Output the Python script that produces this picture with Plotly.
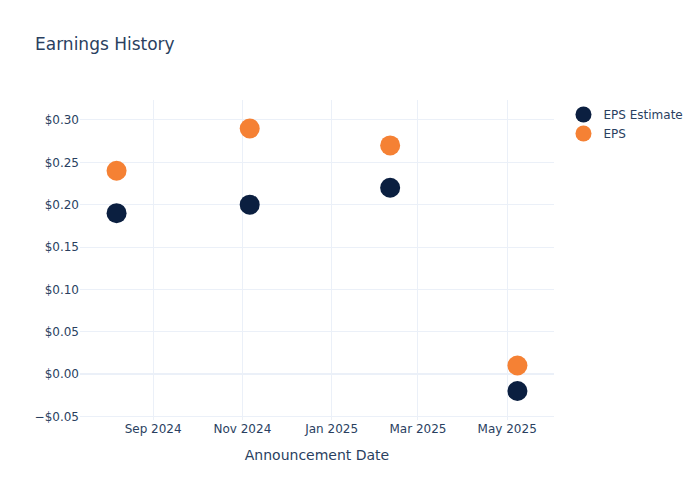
import plotly.graph_objects as go

# announcement dates and EPS values
dates = ["2024-08-07", "2024-11-06", "2025-02-10", "2025-05-08"]
eps_estimate = [0.19, 0.20, 0.22, -0.02]
eps_actual = [0.24, 0.29, 0.27, 0.01]

# y tick labels as shown
y_ticks = [-0.05, 0.0, 0.05, 0.10, 0.15, 0.20, 0.25, 0.30]
y_labels = ["\u2212$0.05", "$0.00", "$0.05", "$0.10", "$0.15", "$0.20", "$0.25", "$0.30"]

fig = go.Figure()

fig.add_trace(
    go.Scatter(
        x=dates,
        y=eps_estimate,
        mode="markers",
        name="EPS Estimate",
        marker=dict(color="#0b1f40", size=20),
    )
)

fig.add_trace(
    go.Scatter(
        x=dates,
        y=eps_actual,
        mode="markers",
        name="EPS",
        marker=dict(color="#f58134", size=20),
    )
)

# page has an 8px body margin, so margins are trimmed to line up with the reference
fig.update_layout(
    template="plotly_white",
    width=700,
    height=500,
    margin=dict(l=72, r=154, t=92, b=88),
    font=dict(family="DejaVu Sans"),
    title=dict(text="Earnings History", x=0.0386, y=0.928, yanchor="middle"),
    xaxis=dict(
        title=dict(text="Announcement Date"),
        range=["2024-07-13", "2025-06-02"],
        dtick="M2",
        tickformat="%b %Y",
    ),
    yaxis=dict(
        range=[-0.0543, 0.3236],
        tickvals=y_ticks,
        ticktext=y_labels,
    ),
)

fig.write_html("out.html")
